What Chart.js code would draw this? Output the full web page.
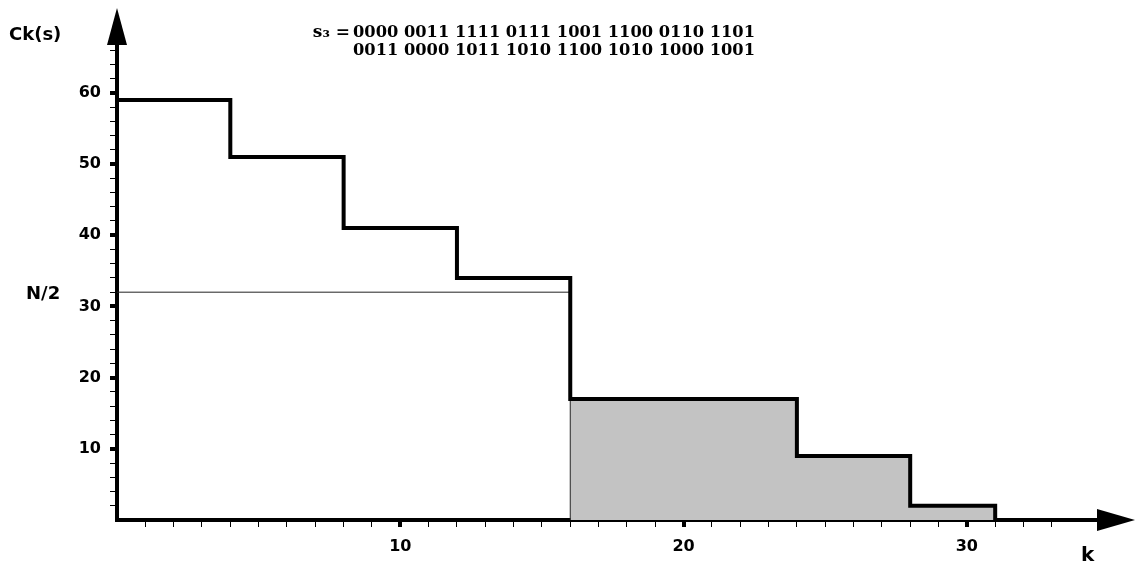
<!DOCTYPE html>
<html>
<head>
<meta charset="utf-8">
<script src="https://cdn.jsdelivr.net/npm/chart.js@4.4.1/dist/chart.umd.min.js"></script>
<style>
  html, body { margin: 0; padding: 0; background: #fff; }
  #wrap { width: 1137px; height: 567px; }
</style>
</head>
<body>
<div id="wrap"><canvas id="chart" width="1137" height="567"></canvas></div>
<script>
// left edges of each step in k (last entry = where the curve ends) and Ck(s) on each step
const kEdges = [0, 4, 8, 12, 16, 24, 28, 31];
const ckValues = [59, 51, 41, 34, 17, 9, 2];
const halfN = 32;
const shadeFrom = 16;
const xTickLabels = [10, 20, 30];
const yTickLabels = [10, 20, 30, 40, 50, 60];
const seqLine1 = '0000 0011 1111 0111 1001 1100 0110 1101';
const seqLine2 = '0011 0000 1011 1010 1100 1010 1000 1001';

// points for a stepped line (value held until the next edge), dropping to 0 at the last edge
function stepPoints(fromK) {
  var pts = [];
  for (var i = 0; i < ckValues.length; i++) {
    if (kEdges[i] >= fromK) pts.push({ x: kEdges[i], y: ckValues[i] });
  }
  pts.push({ x: kEdges[kEdges.length - 1], y: 0 });
  return pts;
}

var shadePts = [{ x: shadeFrom, y: 0 }].concat(stepPoints(shadeFrom));

// arrows + free labels
const decor = {
  id: 'decor',
  afterDraw(chart) {
    const ctx = chart.ctx, a = chart.chartArea;
    const ys = chart.scales.y;
    ctx.save();
    ctx.fillStyle = '#000';
    // x arrow
    ctx.beginPath();
    ctx.moveTo(a.right - 3, a.bottom - 11);
    ctx.lineTo(a.right + 35, a.bottom);
    ctx.lineTo(a.right - 3, a.bottom + 11);
    ctx.closePath();
    ctx.fill();
    // y arrow
    ctx.beginPath();
    ctx.moveTo(a.left - 10, a.top + 2);
    ctx.lineTo(a.left, a.top - 35);
    ctx.lineTo(a.left + 10, a.top + 2);
    ctx.closePath();
    ctx.fill();

    ctx.font = 'bold 18px "DejaVu Sans"';
    ctx.textBaseline = 'middle';
    ctx.textAlign = 'left';
    ctx.fillText('Ck(s)', 9, 35);
    ctx.fillText('N/2', 26, ys.getPixelForValue(halfN) + 2);
    ctx.font = 'bold 20px "DejaVu Sans"';
    ctx.fillText('k', 1081, 556);

    ctx.font = 'bold 17px "DejaVu Serif"';
    ctx.textBaseline = 'alphabetic';
    ctx.fillText(seqLine1, 353, 37, 402);
    ctx.fillText(seqLine2, 353, 55, 402);
    ctx.textAlign = 'right';
    ctx.fillText('s\u2083 =', 350, 37);
    ctx.restore();
  }
};

var ctx = document.getElementById('chart');
var chart = new Chart(ctx, {
  type: 'line',
  data: {
    datasets: [{
      data: stepPoints(0),
      stepped: 'before',
      borderColor: '#000',
      borderWidth: 4,
      pointRadius: 0,
      fill: false,
      order: 0
    }, {
      data: [{ x: 0, y: halfN }, { x: shadeFrom, y: halfN }],
      borderColor: '#222',
      borderWidth: 1,
      pointRadius: 0,
      fill: false,
      order: 1
    }, {
      data: shadePts,
      stepped: 'before',
      borderColor: '#222',
      borderWidth: 1,
      backgroundColor: '#c3c3c3',
      pointRadius: 0,
      fill: 'origin',
      order: 2
    }]
  },
  options: {
    responsive: false,
    animation: false,
    layout: { padding: { left: 0, top: 43, right: 37, bottom: 0 } },
    plugins: {
      legend: { display: false },
      tooltip: { enabled: false }
    },
    scales: {
      x: {
        type: 'linear',
        min: 0,
        max: 34.7,
        z: 1,
        border: { display: true, color: '#000', width: 4 },
        grid: {
          drawOnChartArea: false,
          drawTicks: true,
          tickLength: 7,
          color: '#000',
          lineWidth: (c) => (c.tick && c.tick.value % 10 === 0) ? 4 : 1
        },
        ticks: {
          stepSize: 1,
          includeBounds: false,
          autoSkip: false,
          maxRotation: 0,
          padding: 10,
          color: '#000',
          font: { family: 'DejaVu Sans', size: 16, weight: 'bold' },
          callback: (v) => xTickLabels.includes(v) ? String(v) : ''
        },
        afterBuildTicks: (s) => { s.ticks = s.ticks.filter(t => t.value > 0 && t.value <= 33); },
        afterFit: (s) => { s.height = 47; }
      },
      y: {
        type: 'linear',
        min: 0,
        max: 67,
        z: 1,
        border: { display: true, color: '#000', width: 4 },
        grid: {
          drawOnChartArea: false,
          drawTicks: true,
          tickLength: 7,
          color: '#000',
          lineWidth: (c) => (c.tick && c.tick.value % 10 === 0) ? 4 : 1
        },
        ticks: {
          stepSize: 2,
          includeBounds: false,
          autoSkip: false,
          padding: 9,
          color: '#000',
          font: { family: 'DejaVu Sans', size: 16, weight: 'bold' },
          callback: (v) => yTickLabels.includes(v) ? String(v) : ''
        },
        afterBuildTicks: (s) => { s.ticks = s.ticks.filter(t => t.value > 0 && t.value <= 66); },
        afterFit: (s) => { s.width = 117; }
      }
    }
  },
  plugins: [decor]
});
</script>
</body>
</html>
